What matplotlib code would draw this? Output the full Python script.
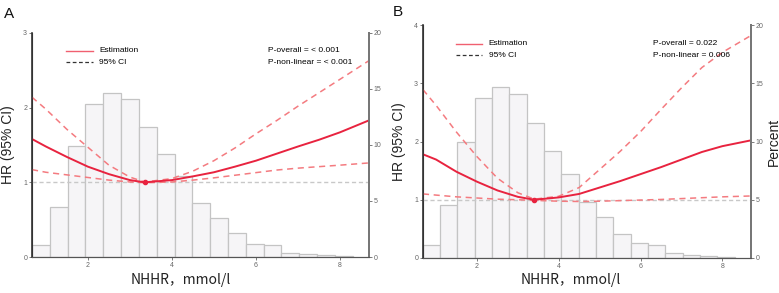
import numpy as np
import matplotlib
matplotlib.use("Agg")
import matplotlib.pyplot as plt

plt.rcParams["font.family"] = ["Liberation Sans", "DejaVu Sans"]

# histogram of NHHR (percent per bin), same bins for both panels
bin_edges = [0.67 + 0.424 * i for i in range(19)]
pct_a = [1.04, 4.5, 9.9, 13.7, 14.6, 14.1, 11.6, 9.2, 7.2, 4.8, 3.5, 2.1, 1.2, 1.04, 0.33, 0.24, 0.15, 0.05]
pct_b = [1.09, 4.55, 9.93, 13.7, 14.65, 14.1, 11.6, 9.2, 7.2, 4.8, 3.5, 2.1, 1.26, 1.09, 0.4, 0.26, 0.17, 0.05]

# spline estimates
x_a = [0.67, 1.0, 1.5, 2.0, 2.5, 3.0, 3.35, 4.0, 4.5, 5.0, 5.5, 6.0, 6.5, 7.0, 7.5, 8.0, 8.69]
hr_a = [1.58, 1.48, 1.34, 1.21, 1.11, 1.03, 1.00, 1.03, 1.08, 1.135, 1.21, 1.29, 1.385, 1.48, 1.57, 1.67, 1.83]
up_a = [2.14, 1.98, 1.71, 1.47, 1.23, 1.07, 1.005, 1.05, 1.15, 1.29, 1.46, 1.65, 1.83, 2.02, 2.20, 2.38, 2.63]
lo_a = [1.17, 1.135, 1.10, 1.065, 1.03, 1.005, 0.995, 1.005, 1.03, 1.06, 1.095, 1.13, 1.165, 1.19, 1.21, 1.23, 1.26]

x_b = [0.68, 1.0, 1.5, 2.0, 2.5, 3.0, 3.4, 4.0, 4.5, 5.0, 5.5, 6.0, 6.5, 7.0, 7.5, 8.0, 8.7]
hr_b = [1.78, 1.69, 1.48, 1.31, 1.16, 1.05, 1.00, 1.04, 1.10, 1.21, 1.32, 1.44, 1.56, 1.69, 1.82, 1.92, 2.02]
up_b = [2.89, 2.62, 2.16, 1.74, 1.37, 1.12, 1.01, 1.06, 1.21, 1.52, 1.83, 2.17, 2.55, 2.92, 3.27, 3.53, 3.82]
lo_b = [1.10, 1.08, 1.05, 1.03, 1.01, 1.00, 0.99, 0.975, 0.97, 0.975, 0.985, 0.995, 1.005, 1.02, 1.035, 1.05, 1.065]

ref_a = (3.35, 1.0)
ref_b = (3.4, 1.0)

RED = "#e8233f"
CI_RED = "#f47b80"
CJK = ["Noto Sans CJK SC", "DejaVu Sans"]

fig = plt.figure(figsize=(7.79, 2.93), dpi=100)


def panel(rect, letter, letter_xy, pct, xs, hr, up, lo, ref, hr_max, p_txt,
          percent_label, xlab_xy):
    ax2 = fig.add_axes(rect)
    ax = ax2.twinx()
    # curves on top of the histogram
    ax2.yaxis.tick_right()
    ax.yaxis.tick_left()
    ax.set_zorder(ax2.get_zorder() + 1)
    ax.patch.set_visible(False)

    widths = np.diff(bin_edges)
    ax2.bar(bin_edges[:-1], pct, width=widths, align="edge",
            color="#f6f5f7", edgecolor="#c4c4c4", linewidth=0.9)
    ax2.set_ylim(0, 20)
    ax2.set_yticks([0, 5, 10, 15, 20])

    ax.axhline(1, color="#c8c8c8", ls=(0, (3, 2)), lw=1.0)
    ax.plot(xs, up, color=CI_RED, ls=(0, (4, 3)), lw=1.1)
    ax.plot(xs, lo, color=CI_RED, ls=(0, (4, 3)), lw=1.1)
    ax.plot(xs, hr, color=RED, lw=1.4)
    ax.plot([ref[0]], [ref[1]], "o", color=RED, ms=3)
    ax.set_ylim(0, hr_max)
    ax.set_yticks(range(hr_max + 1))
    ax.set_xlim(xs[0], xs[-1])
    ax2.set_xlim(xs[0], xs[-1])
    ax2.set_xticks([2, 4, 6, 8])

    for a in (ax, ax2):
        a.spines["top"].set_visible(False)
        a.tick_params(labelsize=5, colors="#666666", length=2, width=0.6, pad=1.5)
    ax.spines["left"].set_color("#333333")
    ax.spines["left"].set_linewidth(1.2)
    ax.spines["right"].set_color("#777777")
    ax.spines["right"].set_linewidth(1.4)
    ax.spines["bottom"].set_color("#555555")
    ax2.spines["bottom"].set_color("#555555")
    ax2.spines["right"].set_color("#777777")
    ax2.spines["right"].set_linewidth(1.4)
    ax2.spines["left"].set_color("#333333")

    ax2.set_xlabel("NHHR，mmol/l", family=CJK, fontsize=10, color="#222222", va="center")
    ax2.xaxis.set_label_coords(*xlab_xy)
    ax.set_ylabel("HR (95% CI)", fontsize=10, color="#222222", labelpad=6)
    ax.yaxis.set_label_position("left")
    if percent_label:
        ax2.set_ylabel("Percent", fontsize=10, color="#222222", labelpad=2)
        ax2.yaxis.set_label_position("right")

    # legend drawn by hand in axes fraction
    lx, ly = 0.10, 0.92
    ax.plot([lx, lx + 0.08], [ly, ly], transform=ax.transAxes, color="#f06070", lw=1.0)
    ax.plot([lx, lx + 0.08], [ly - 0.05, ly - 0.05], transform=ax.transAxes,
            color="#333333", lw=0.9, ls=(0, (3, 2)))
    ax.text(lx + 0.10, ly, "Estimation", transform=ax.transAxes, fontsize=6, va="center")
    ax.text(lx + 0.10, ly - 0.05, "95% CI", transform=ax.transAxes, fontsize=6, va="center")
    ax.text(0.70, ly, p_txt[0], transform=ax.transAxes, fontsize=6, va="center")
    ax.text(0.70, ly - 0.05, p_txt[1], transform=ax.transAxes, fontsize=6, va="center")

    fig.text(letter_xy[0], letter_xy[1], letter, fontsize=11, color="#111111")
    return ax


panel([32 / 779, 1 - 257 / 293, 337 / 779, 224 / 293], "A", (4 / 779, 1 - 18 / 293),
      pct_a, x_a, hr_a, up_a, lo_a, ref_a, 3,
      ("P-overall = < 0.001", "P-non-linear = < 0.001"), False, (0.442, -0.103))
panel([423 / 779, 1 - 258 / 293, 328 / 779, 233 / 293], "B", (393 / 779, 1 - 16 / 293),
      pct_b, x_b, hr_b, up_b, lo_b, ref_b, 4,
      ("P-overall = 0.022", "P-non-linear = 0.006"), True, (0.45, -0.094))

fig.savefig("out.png", dpi=100)
